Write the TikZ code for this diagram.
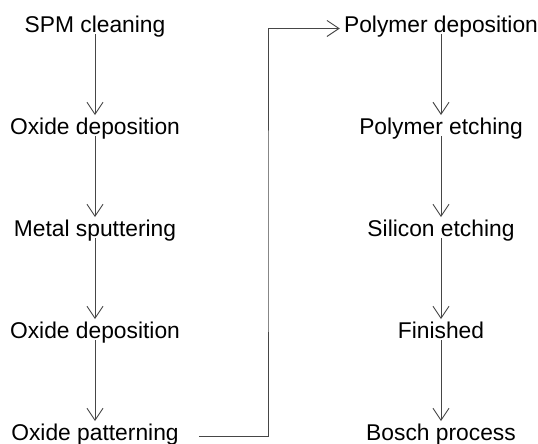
\documentclass[tikz,border=0pt]{standalone}
\usepackage{fontspec}
\setmainfont{Liberation Sans}
\usepackage{xcolor}
\usepackage{tikz}
\usetikzlibrary{positioning,arrows.meta}

\definecolor{linegray}{RGB}{70,70,70}

\begin{document}
\begin{tikzpicture}[
		x=0.75pt, y=-0.75pt,
		node distance=60.6pt,
		stepbox/.style={
			align=center,
			inner xsep=3pt,
			inner ysep=1.5pt,
			text height=12.5pt,
			text depth=0pt,
			font=\fontsize{17.1pt}{20pt}\selectfont
		},
		arrow/.style={-{Straight Barb[length=9pt,width=12pt]}, draw=linegray, line width=0.7pt}
		]
		\useasboundingbox (0,0) rectangle (538,443);
		
		% Left column
		\node[stepbox, anchor=base] (spm) at (95,32) {SPM cleaning};
		\node[stepbox, below=of spm] (oxdepa) {Oxide deposition};
		\node[stepbox, below=of oxdepa] (metal) {Metal sputtering};
		\node[stepbox, below=of metal] (oxdepb) {Oxide deposition};
		\node[stepbox, below=of oxdepb] (oxpat) {Oxide patterning};
		
		% Right column
		\node[stepbox, anchor=base] (polydep) at (441,32) {Polymer deposition};
		\node[stepbox, below=of polydep] (polyetch) {Polymer etching};
		\node[stepbox, below=of polyetch] (sietch) {Silicon etching};
		\node[stepbox, below=of sietch] (finished) {Finished};
		\node[stepbox, below=of finished] (bosch) {Bosch process};
		
		% Turn of the long connector
		\coordinate (turn) at (268,230);
		
		% Arrows
		\draw[arrow] (spm) -- (oxdepa);
		\draw[arrow] (oxdepa) -- (metal);
		\draw[arrow] (metal) -- (oxdepb);
		\draw[arrow] (oxdepb) -- (oxpat);
		\draw[arrow, shorten <=12pt] (oxpat.mid east) -| (turn) |- (polydep.mid west);
		\draw[arrow] (polydep) -- (polyetch);
		\draw[arrow] (polyetch) -- (sietch);
		\draw[arrow] (sietch) -- (finished);
		\draw[arrow] (finished) -- (bosch);
		
	\end{tikzpicture}
\end{document}
